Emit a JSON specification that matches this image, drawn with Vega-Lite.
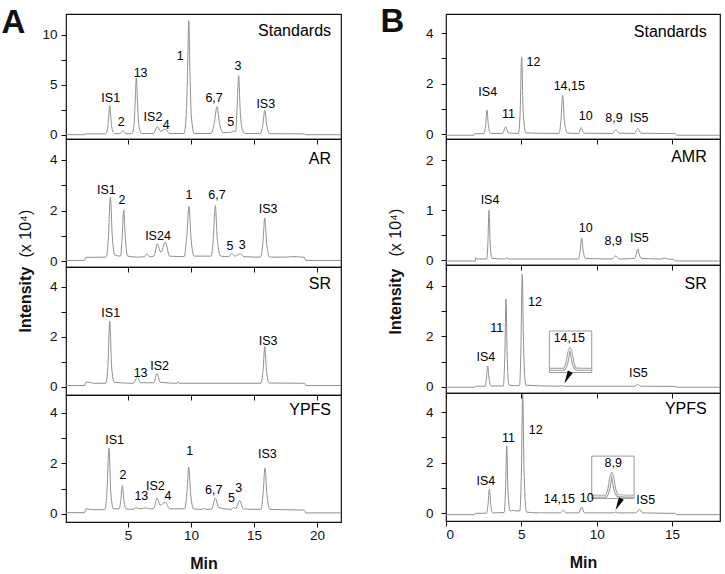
{
"$schema": "https://vega.github.io/schema/vega-lite/v6.json",
"padding": {"left": 0, "top": 4, "right": 0, "bottom": 0},
"config": {
  "font": "Arial, Liberation Sans, sans-serif",
  "view": {"stroke": "#111", "strokeWidth": 1.2},
  "axis": {"domain": false, "grid": false, "tickSize": 5, "tickColor": "#111", "tickWidth": 1, "labelFontSize": 13.5, "labelColor": "#111", "labelPadding": 4, "titleColor": "#111", "labelFont": "Arial, Liberation Sans, sans-serif", "titleFont": "Arial, Liberation Sans, sans-serif"},
  "axisX": {"labelPadding": 1},
  "text": {"fontSize": 12.5, "color": "#000", "baseline": "middle"},
  "line": {"color": "#8f8f8f", "strokeWidth": 1, "interpolate": "monotone", "clip": true}
},
"datasets": {
  "tA1": [{"t":0.08,"v":0.0},{"t":1.55,"v":0.0},{"t":1.65,"v":0.08},{"t":3.2,"v":0.08},{"t":3.38,"v":0.6},{"t":3.45,"v":1.5},{"t":3.55,"v":2.9},{"t":3.65,"v":1.5},{"t":3.75,"v":0.5},{"t":3.95,"v":0.12},{"t":4.35,"v":0.1},{"t":4.6,"v":0.4},{"t":4.85,"v":0.1},{"t":5.3,"v":0.1},{"t":5.48,"v":1.0},{"t":5.56,"v":3.0},{"t":5.66,"v":5.67},{"t":5.76,"v":3.0},{"t":5.86,"v":0.9},{"t":6.1,"v":0.12},{"t":7.0,"v":0.12},{"t":7.33,"v":0.8},{"t":7.6,"v":0.35},{"t":7.96,"v":0.57},{"t":8.3,"v":0.12},{"t":9.45,"v":0.12},{"t":9.62,"v":2.0},{"t":9.72,"v":6.0},{"t":9.82,"v":11.4},{"t":9.92,"v":6.0},{"t":10.02,"v":2.0},{"t":10.25,"v":0.12},{"t":11.6,"v":0.12},{"t":11.85,"v":1.2},{"t":12.06,"v":2.8},{"t":12.25,"v":1.2},{"t":12.55,"v":0.2},{"t":13.2,"v":0.25},{"t":13.38,"v":0.35},{"t":13.5,"v":0.3},{"t":13.55,"v":0.4},{"t":13.65,"v":2.5},{"t":13.78,"v":5.9},{"t":13.9,"v":2.5},{"t":14.05,"v":0.6},{"t":14.3,"v":0.12},{"t":15.5,"v":0.1},{"t":15.7,"v":1.0},{"t":15.85,"v":2.47},{"t":16.0,"v":1.0},{"t":16.25,"v":0.1},{"t":19.0,"v":0.08},{"t":19.1,"v":0.0},{"t":21.9,"v":0.0}],
  "tA2": [{"t":0.08,"v":0.03},{"t":1.55,"v":0.03},{"t":1.65,"v":0.15},{"t":3.2,"v":0.16},{"t":3.3,"v":0.2},{"t":3.45,"v":1.0},{"t":3.6,"v":2.53},{"t":3.75,"v":1.0},{"t":3.95,"v":0.25},{"t":4.4,"v":0.2},{"t":4.53,"v":0.9},{"t":4.66,"v":2.03},{"t":4.79,"v":0.9},{"t":4.98,"v":0.2},{"t":5.8,"v":0.16},{"t":6.3,"v":0.18},{"t":6.5,"v":0.29},{"t":6.7,"v":0.18},{"t":7.05,"v":0.2},{"t":7.33,"v":0.68},{"t":7.6,"v":0.35},{"t":7.96,"v":0.75},{"t":8.3,"v":0.2},{"t":9.45,"v":0.18},{"t":9.65,"v":0.9},{"t":9.84,"v":2.17},{"t":10.0,"v":0.9},{"t":10.25,"v":0.2},{"t":11.6,"v":0.2},{"t":11.77,"v":0.9},{"t":11.93,"v":2.2},{"t":12.08,"v":0.9},{"t":12.35,"v":0.2},{"t":13.0,"v":0.18},{"t":13.23,"v":0.29},{"t":13.5,"v":0.2},{"t":13.9,"v":0.29},{"t":14.2,"v":0.18},{"t":15.5,"v":0.16},{"t":15.7,"v":0.7},{"t":15.85,"v":1.7},{"t":16.0,"v":0.7},{"t":16.25,"v":0.16},{"t":17.5,"v":0.16},{"t":18.0,"v":0.18},{"t":19.0,"v":0.15},{"t":19.1,"v":0.03},{"t":21.9,"v":0.03}],
  "tA3": [{"t":0.08,"v":0.05},{"t":1.55,"v":0.05},{"t":1.65,"v":0.18},{"t":2.0,"v":0.18},{"t":2.2,"v":0.14},{"t":3.25,"v":0.14},{"t":3.4,"v":0.8},{"t":3.55,"v":2.62},{"t":3.7,"v":0.8},{"t":3.9,"v":0.18},{"t":5.4,"v":0.14},{"t":5.74,"v":0.37},{"t":6.0,"v":0.16},{"t":7.05,"v":0.16},{"t":7.3,"v":0.54},{"t":7.55,"v":0.18},{"t":8.9,"v":0.14},{"t":8.97,"v":0.2},{"t":9.05,"v":0.14},{"t":15.55,"v":0.14},{"t":15.72,"v":0.7},{"t":15.85,"v":1.6},{"t":15.98,"v":0.7},{"t":16.2,"v":0.15},{"t":19.0,"v":0.14},{"t":19.1,"v":0.05},{"t":21.9,"v":0.05}],
  "tA4": [{"t":0.08,"v":0.05},{"t":1.55,"v":0.05},{"t":1.65,"v":0.2},{"t":2.2,"v":0.17},{"t":3.15,"v":0.17},{"t":3.32,"v":0.8},{"t":3.49,"v":2.61},{"t":3.64,"v":0.8},{"t":3.85,"v":0.2},{"t":4.3,"v":0.2},{"t":4.42,"v":0.5},{"t":4.55,"v":1.12},{"t":4.68,"v":0.5},{"t":4.85,"v":0.2},{"t":5.4,"v":0.18},{"t":5.66,"v":0.25},{"t":5.9,"v":0.2},{"t":6.4,"v":0.24},{"t":6.7,"v":0.2},{"t":7.05,"v":0.22},{"t":7.3,"v":0.63},{"t":7.55,"v":0.35},{"t":7.96,"v":0.46},{"t":8.3,"v":0.2},{"t":9.5,"v":0.2},{"t":9.67,"v":0.8},{"t":9.82,"v":1.85},{"t":9.97,"v":0.8},{"t":10.2,"v":0.2},{"t":10.9,"v":0.18},{"t":11.0,"v":0.22},{"t":11.2,"v":0.18},{"t":11.65,"v":0.2},{"t":11.93,"v":0.63},{"t":12.2,"v":0.25},{"t":13.2,"v":0.18},{"t":13.38,"v":0.25},{"t":13.55,"v":0.22},{"t":13.86,"v":0.53},{"t":14.15,"v":0.2},{"t":15.55,"v":0.18},{"t":15.72,"v":0.8},{"t":15.87,"v":1.82},{"t":16.02,"v":0.8},{"t":16.25,"v":0.18},{"t":19.0,"v":0.15},{"t":19.1,"v":0.04},{"t":21.9,"v":0.04}],
  "tB1": [{"t":0,"v":-0.04},{"t":1.85,"v":-0.04},{"t":1.9,"v":0.02},{"t":2.5,"v":0.02},{"t":2.62,"v":0.3},{"t":2.72,"v":0.96},{"t":2.82,"v":0.3},{"t":2.98,"v":0.03},{"t":3.75,"v":0.03},{"t":3.96,"v":0.29},{"t":4.15,"v":0.05},{"t":4.8,"v":0.03},{"t":4.92,"v":0.9},{"t":5.02,"v":3.06},{"t":5.12,"v":0.9},{"t":5.3,"v":0.05},{"t":7.5,"v":0.03},{"t":7.62,"v":0.5},{"t":7.74,"v":1.54},{"t":7.86,"v":0.5},{"t":8.05,"v":0.05},{"t":8.8,"v":0.03},{"t":8.96,"v":0.26},{"t":9.15,"v":0.04},{"t":11.05,"v":0.03},{"t":11.26,"v":0.17},{"t":11.5,"v":0.04},{"t":12.5,"v":0.03},{"t":12.72,"v":0.22},{"t":12.95,"v":0.04},{"t":15.2,"v":0.02},{"t":15.3,"v":-0.04},{"t":18.18,"v":-0.04}],
  "tB2": [{"t":0,"v":-0.01},{"t":1.95,"v":-0.01},{"t":1.97,"v":0.06},{"t":2.05,"v":0.03},{"t":2.7,"v":0.03},{"t":2.78,"v":0.35},{"t":2.85,"v":1.0},{"t":2.93,"v":0.35},{"t":3.05,"v":0.04},{"t":3.95,"v":0.03},{"t":4.03,"v":0.06},{"t":4.12,"v":0.03},{"t":8.8,"v":0.03},{"t":8.9,"v":0.2},{"t":9.0,"v":0.45},{"t":9.1,"v":0.2},{"t":9.25,"v":0.04},{"t":11.0,"v":0.03},{"t":11.26,"v":0.09},{"t":11.5,"v":0.03},{"t":12.5,"v":0.04},{"t":12.62,"v":0.12},{"t":12.72,"v":0.23},{"t":12.82,"v":0.12},{"t":12.98,"v":0.04},{"t":14.3,"v":0.03},{"t":14.5,"v":0.05},{"t":14.7,"v":0.03},{"t":15.1,"v":0.02},{"t":15.2,"v":-0.01},{"t":18.18,"v":-0.01}],
  "tB3": [{"t":0,"v":-0.02},{"t":1.9,"v":-0.02},{"t":1.95,"v":0.02},{"t":2.6,"v":0.02},{"t":2.68,"v":0.3},{"t":2.77,"v":0.82},{"t":2.86,"v":0.3},{"t":3.0,"v":0.03},{"t":3.8,"v":0.03},{"t":3.9,"v":1.2},{"t":3.98,"v":3.47},{"t":4.06,"v":1.2},{"t":4.18,"v":0.06},{"t":4.88,"v":0.04},{"t":4.97,"v":1.5},{"t":5.06,"v":4.46},{"t":5.15,"v":1.5},{"t":5.3,"v":0.06},{"t":7.6,"v":0.02},{"t":7.7,"v":0.05},{"t":7.8,"v":0.02},{"t":12.55,"v":0.02},{"t":12.72,"v":0.1},{"t":12.9,"v":0.02},{"t":15.2,"v":0.01},{"t":15.3,"v":-0.02},{"t":18.18,"v":-0.02}],
  "tB4": [{"t":0,"v":-0.05},{"t":1.9,"v":-0.05},{"t":1.95,"v":0.0},{"t":2.7,"v":0.01},{"t":2.79,"v":0.35},{"t":2.88,"v":0.95},{"t":2.97,"v":0.35},{"t":3.1,"v":0.02},{"t":3.85,"v":0.03},{"t":3.95,"v":0.9},{"t":4.03,"v":2.66},{"t":4.11,"v":0.9},{"t":4.25,"v":0.1},{"t":4.45,"v":0.12},{"t":4.55,"v":0.1},{"t":4.9,"v":0.1},{"t":5.0,"v":1.6},{"t":5.09,"v":4.7},{"t":5.18,"v":1.6},{"t":5.35,"v":0.05},{"t":6.2,"v":0.02},{"t":6.3,"v":0.05},{"t":6.4,"v":0.02},{"t":7.6,"v":0.02},{"t":7.79,"v":0.13},{"t":7.95,"v":0.02},{"t":8.8,"v":0.02},{"t":9.0,"v":0.25},{"t":9.2,"v":0.02},{"t":11.1,"v":0.02},{"t":11.26,"v":0.05},{"t":11.4,"v":0.02},{"t":12.6,"v":0.02},{"t":12.83,"v":0.16},{"t":13.05,"v":0.02},{"t":15.2,"v":0.0},{"t":15.3,"v":-0.05},{"t":18.18,"v":-0.05}],
  "iB3": [{"t":6.9,"v":0.69},{"t":7.8,"v":0.69},{"t":8.0,"v":0.9},{"t":8.23,"v":1.52},{"t":8.45,"v":0.9},{"t":8.65,"v":0.7},{"t":9.62,"v":0.69}],
  "iB4": [{"t":9.7,"v":0.68},{"t":10.6,"v":0.68},{"t":10.8,"v":0.95},{"t":11.0,"v":1.57},{"t":11.2,"v":0.95},{"t":11.4,"v":0.7},{"t":12.45,"v":0.68}],
  "lA1": [{"t":3.63,"v":3.64,"s":"IS1"},{"t":4.47,"v":1.24,"s":"2"},{"t":6.0,"v":6.17,"s":"13"},{"t":6.98,"v":1.74,"s":"IS2"},{"t":8.04,"v":0.97,"s":"4"},{"t":9.15,"v":7.9,"s":"1"},{"t":11.83,"v":3.64,"s":"6,7"},{"t":13.15,"v":1.24,"s":"5"},{"t":13.73,"v":6.9,"s":"3"},{"t":15.93,"v":3.07,"s":"IS3"}],
  "lA2": [{"t":3.28,"v":2.83,"s":"IS1"},{"t":4.52,"v":2.42,"s":"2"},{"t":7.38,"v":1.01,"s":"IS24"},{"t":9.84,"v":2.62,"s":"1"},{"t":12.06,"v":2.62,"s":"6,7"},{"t":13.1,"v":0.59,"s":"5"},{"t":14.07,"v":0.64,"s":"3"},{"t":16.11,"v":2.07,"s":"IS3"}],
  "lA3": [{"t":3.63,"v":2.94,"s":"IS1"},{"t":6.0,"v":0.54,"s":"13"},{"t":7.51,"v":0.84,"s":"IS2"},{"t":16.11,"v":1.82,"s":"IS3"}],
  "lA4": [{"t":3.94,"v":2.94,"s":"IS1"},{"t":4.6,"v":1.56,"s":"2"},{"t":6.06,"v":0.69,"s":"13"},{"t":7.17,"v":1.1,"s":"IS2"},{"t":8.17,"v":0.69,"s":"4"},{"t":9.9,"v":2.48,"s":"1"},{"t":11.8,"v":0.96,"s":"6,7"},{"t":13.2,"v":0.63,"s":"5"},{"t":13.78,"v":1.03,"s":"3"},{"t":16.06,"v":2.38,"s":"IS3"}],
  "lB1": [{"t":2.77,"v":1.69,"s":"IS4"},{"t":4.14,"v":0.79,"s":"11"},{"t":5.8,"v":2.86,"s":"12"},{"t":8.18,"v":1.89,"s":"14,15"},{"t":9.27,"v":0.72,"s":"10"},{"t":11.15,"v":0.66,"s":"8,9"},{"t":12.81,"v":0.66,"s":"IS5"}],
  "lB2": [{"t":2.92,"v":1.2,"s":"IS4"},{"t":9.27,"v":0.65,"s":"10"},{"t":11.1,"v":0.38,"s":"8,9"},{"t":12.83,"v":0.44,"s":"IS5"}],
  "lB3": [{"t":2.65,"v":1.19,"s":"IS4"},{"t":3.36,"v":2.32,"s":"11"},{"t":5.91,"v":3.37,"s":"12"},{"t":12.76,"v":0.53,"s":"IS5"},{"t":8.18,"v":1.94,"s":"14,15"}],
  "lB4": [{"t":2.65,"v":1.28,"s":"IS4"},{"t":4.14,"v":2.99,"s":"11"},{"t":5.95,"v":3.29,"s":"12"},{"t":7.52,"v":0.58,"s":"14,15"},{"t":9.34,"v":0.62,"s":"10"},{"t":13.25,"v":0.53,"s":"IS5"},{"t":11.1,"v":1.98,"s":"8,9"}]
},
"hconcat": [
 {"vconcat": [
  {"width": 275, "height": 125,
   "encoding": {
    "x": {"field": "t", "type": "quantitative", "scale": {"domain": [0.08, 21.9], "nice": false, "zero": false}, "axis": {"values": [5, 10, 15, 20], "labels": false, "title": null}},
    "y": {"field": "v", "type": "quantitative", "scale": {"domain": [-0.43, 12.07], "nice": false, "zero": false}, "axis": {"values": [0, 2.5, 5, 7.5, 10], "labelExpr": "datum.value % 5 == 0 ? '' + datum.value : ''", "title": "A", "titleAngle": 0, "titleX": -65, "titleY": 18, "titleAlign": "left", "titleBaseline": "alphabetic", "titleFontSize": 33, "titleFontWeight": "bold"}}
   },
   "layer": [
    {"data": {"name": "tA1"}, "mark": {"type": "line"}},
    {"data": {"name": "lA1"}, "mark": {"type": "text"}, "encoding": {"text": {"field": "s"}}},
    {"data": {"values": [{"t": 21.11, "v": 10.34, "s": "Standards"}]}, "mark": {"type": "text", "align": "right", "fontSize": 16}, "encoding": {"text": {"field": "s"}}}
   ]},
  {"width": 275, "height": 128,
   "encoding": {
    "x": {"field": "t", "type": "quantitative", "scale": {"domain": [0.08, 21.9], "nice": false, "zero": false}, "axis": {"values": [5, 10, 15, 20], "labels": false, "title": null}},
    "y": {"field": "v", "type": "quantitative", "scale": {"domain": [-0.23, 4.83], "nice": false, "zero": false}, "axis": {"values": [0, 1, 2, 3, 4], "labelExpr": "datum.value % 2 == 0 ? '' + datum.value : ''", "title": "(x 10⁴)", "titleAngle": 270, "titleX": -36, "titleY": 118, "titleAlign": "left", "titleBaseline": "alphabetic", "titleFontSize": 16, "titleFontWeight": "normal"}}
   },
   "layer": [
    {"data": {"name": "tA2"}, "mark": {"type": "line"}},
    {"data": {"name": "lA2"}, "mark": {"type": "text"}, "encoding": {"text": {"field": "s"}}},
    {"data": {"values": [{"t": 21.11, "v": 4.02, "s": "AR"}]}, "mark": {"type": "text", "align": "right", "fontSize": 16}, "encoding": {"text": {"field": "s"}}}
   ]},
  {"width": 275, "height": 128,
   "encoding": {
    "x": {"field": "t", "type": "quantitative", "scale": {"domain": [0.08, 21.9], "nice": false, "zero": false}, "axis": {"values": [5, 10, 15, 20], "labels": false, "title": null}},
    "y": {"field": "v", "type": "quantitative", "scale": {"domain": [-0.33, 4.79], "nice": false, "zero": false}, "axis": {"values": [0, 1, 2, 3, 4], "labelExpr": "datum.value % 2 == 0 ? '' + datum.value : ''", "title": "Intensity", "titleAngle": 270, "titleX": -36, "titleY": 65, "titleAlign": "left", "titleBaseline": "alphabetic", "titleFontSize": 16, "titleFontWeight": "bold"}}
   },
   "layer": [
    {"data": {"name": "tA3"}, "mark": {"type": "line"}},
    {"data": {"name": "lA3"}, "mark": {"type": "text"}, "encoding": {"text": {"field": "s"}}},
    {"data": {"values": [{"t": 21.11, "v": 4.1, "s": "SR"}]}, "mark": {"type": "text", "align": "right", "fontSize": 16}, "encoding": {"text": {"field": "s"}}}
   ]},
  {"width": 275, "height": 127,
   "encoding": {
    "x": {"field": "t", "type": "quantitative", "scale": {"domain": [0.08, 21.9], "nice": false, "zero": false}, "axis": {"values": [5, 10, 15, 20], "labels": true, "title": "Min", "titleFontSize": 16, "titleFontWeight": "bold", "titlePadding": 14}},
    "y": {"field": "v", "type": "quantitative", "scale": {"domain": [-0.32, 4.71], "nice": false, "zero": false}, "axis": {"values": [0, 1, 2, 3, 4], "labelExpr": "datum.value % 2 == 0 ? '' + datum.value : ''", "title": null}}
   },
   "layer": [
    {"data": {"name": "tA4"}, "mark": {"type": "line"}},
    {"data": {"name": "lA4"}, "mark": {"type": "text"}, "encoding": {"text": {"field": "s"}}},
    {"data": {"values": [{"t": 21.11, "v": 4.12, "s": "YPFS"}]}, "mark": {"type": "text", "align": "right", "fontSize": 16}, "encoding": {"text": {"field": "s"}}}
   ]}
 ], "spacing": 0, "bounds": "flush"},
 {"vconcat": [
  {"width": 274, "height": 125,
   "encoding": {
    "x": {"field": "t", "type": "quantitative", "scale": {"domain": [0, 18.18], "nice": false, "zero": false}, "axis": {"values": [0, 5, 10, 15], "labels": false, "title": null}},
    "y": {"field": "v", "type": "quantitative", "scale": {"domain": [-0.19, 4.76], "nice": false, "zero": false}, "axis": {"values": [0, 1, 2, 3, 4], "labelExpr": "datum.value % 2 == 0 ? '' + datum.value : ''", "labelPadding": 8, "title": "B", "titleAngle": 0, "titleX": -66, "titleY": 17, "titleAlign": "left", "titleBaseline": "alphabetic", "titleFontSize": 33, "titleFontWeight": "bold"}}
   },
   "layer": [
    {"data": {"name": "tB1"}, "mark": {"type": "line"}},
    {"data": {"name": "lB1"}, "mark": {"type": "text"}, "encoding": {"text": {"field": "s"}}},
    {"data": {"values": [{"t": 17.3, "v": 4.06, "s": "Standards"}]}, "mark": {"type": "text", "align": "right", "fontSize": 16}, "encoding": {"text": {"field": "s"}}}
   ]},
  {"width": 274, "height": 126,
   "encoding": {
    "x": {"field": "t", "type": "quantitative", "scale": {"domain": [0, 18.18], "nice": false, "zero": false}, "axis": {"values": [0, 5, 10, 15], "labels": false, "title": null}},
    "y": {"field": "v", "type": "quantitative", "scale": {"domain": [-0.09, 2.42], "nice": false, "zero": false}, "axis": {"values": [0, 0.5, 1, 1.5, 2], "labelExpr": "datum.value % 1 == 0 ? '' + datum.value : ''", "labelPadding": 8, "title": "(x 10⁴)", "titleAngle": 270, "titleX": -46, "titleY": 117, "titleAlign": "left", "titleBaseline": "alphabetic", "titleFontSize": 16, "titleFontWeight": "normal"}}
   },
   "layer": [
    {"data": {"name": "tB2"}, "mark": {"type": "line"}},
    {"data": {"name": "lB2"}, "mark": {"type": "text"}, "encoding": {"text": {"field": "s"}}},
    {"data": {"values": [{"t": 17.3, "v": 2.06, "s": "AMR"}]}, "mark": {"type": "text", "align": "right", "fontSize": 16}, "encoding": {"text": {"field": "s"}}}
   ]},
  {"width": 274, "height": 128,
   "encoding": {
    "x": {"field": "t", "type": "quantitative", "scale": {"domain": [0, 18.18], "nice": false, "zero": false}, "axis": {"values": [0, 5, 10, 15], "labels": false, "title": null}},
    "y": {"field": "v", "type": "quantitative", "scale": {"domain": [-0.25, 4.83], "nice": false, "zero": false}, "axis": {"values": [0, 1, 2, 3, 4], "labelExpr": "datum.value % 2 == 0 ? '' + datum.value : ''", "labelPadding": 8, "title": "Intensity", "titleAngle": 270, "titleX": -46, "titleY": 69, "titleAlign": "left", "titleBaseline": "alphabetic", "titleFontSize": 16, "titleFontWeight": "bold"}}
   },
   "layer": [
    {"data": {"name": "tB3"}, "mark": {"type": "line"}},
    {"data": {"values": [{"t": 6.86, "t2": 9.67, "v": 0.56, "v2": 2.21}]}, "mark": {"type": "rect", "fill": "white", "stroke": "#9a9a9a", "strokeWidth": 1}, "encoding": {"x2": {"field": "t2"}, "y2": {"field": "v2"}}},
    {"data": {"name": "iB3"}, "mark": {"type": "line", "strokeWidth": 3, "color": "#9a9a9a"}},
    {"data": {"name": "iB3"}, "mark": {"type": "line", "strokeWidth": 1, "color": "white"}},
    {"data": {"values": [{"t": 8.05, "v": 0.36}]}, "mark": {"type": "point", "shape": "M0,-1L0.42,1L-0.42,1Z", "angle": 207, "size": 170, "filled": true, "color": "#000", "opacity": 1}},
    {"data": {"name": "lB3"}, "mark": {"type": "text"}, "encoding": {"text": {"field": "s"}}},
    {"data": {"values": [{"t": 17.3, "v": 4.06, "s": "SR"}]}, "mark": {"type": "text", "align": "right", "fontSize": 16}, "encoding": {"text": {"field": "s"}}}
   ]},
  {"width": 274, "height": 128,
   "encoding": {
    "x": {"field": "t", "type": "quantitative", "scale": {"domain": [0, 18.18], "nice": false, "zero": false}, "axis": {"values": [0, 5, 10, 15], "labels": true, "title": "Min", "titleFontSize": 16, "titleFontWeight": "bold", "titlePadding": 14}},
    "y": {"field": "v", "type": "quantitative", "scale": {"domain": [-0.3, 4.75], "nice": false, "zero": false}, "axis": {"values": [0, 1, 2, 3, 4], "labelExpr": "datum.value % 2 == 0 ? '' + datum.value : ''", "labelPadding": 8, "title": null}}
   },
   "layer": [
    {"data": {"name": "tB4"}, "mark": {"type": "line"}},
    {"data": {"values": [{"t": 9.67, "t2": 12.48, "v": 0.59, "v2": 2.26}]}, "mark": {"type": "rect", "fill": "white", "stroke": "#9a9a9a", "strokeWidth": 1}, "encoding": {"x2": {"field": "t2"}, "y2": {"field": "v2"}}},
    {"data": {"name": "iB4"}, "mark": {"type": "line", "strokeWidth": 3, "color": "#9a9a9a"}},
    {"data": {"name": "iB4"}, "mark": {"type": "line", "strokeWidth": 1, "color": "white"}},
    {"data": {"values": [{"t": 11.44, "v": 0.36}]}, "mark": {"type": "point", "shape": "M0,-1L0.42,1L-0.42,1Z", "angle": 207, "size": 170, "filled": true, "color": "#000", "opacity": 1}},
    {"data": {"name": "lB4"}, "mark": {"type": "text"}, "encoding": {"text": {"field": "s"}}},
    {"data": {"values": [{"t": 17.3, "v": 4.11, "s": "YPFS"}]}, "mark": {"type": "text", "align": "right", "fontSize": 16}, "encoding": {"text": {"field": "s"}}}
   ]}
 ], "spacing": 0, "bounds": "flush"}
], "spacing": 35
}
